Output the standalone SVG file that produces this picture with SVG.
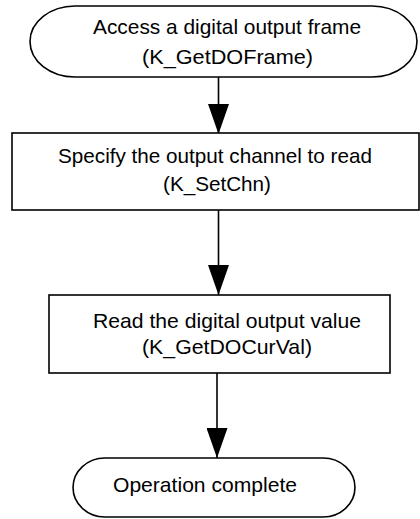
<svg xmlns="http://www.w3.org/2000/svg" width="420" height="519" viewBox="0 0 420 519">
<style>
.shape{fill:#fff;stroke:#000;stroke-width:1.6}
.conn{stroke:#000;stroke-width:1.6;fill:none}
text{font-family:"Liberation Sans",Arial,sans-serif;font-size:21px;fill:#000;text-anchor:middle}
</style>
<defs>
<marker id="arr" viewBox="0 0 30 21" refX="30" refY="10.5" markerWidth="30" markerHeight="21" markerUnits="userSpaceOnUse" orient="auto">
<path d="M0,0 L30,10.5 L0,21 Z" fill="#000"/>
</marker>
</defs>
<rect width="420" height="519" fill="#fff"/>
<g id="connectors">
<line class="conn" x1="218.5" y1="77" x2="218.5" y2="134" marker-end="url(#arr)"/>
<line class="conn" x1="218.5" y1="210" x2="218.5" y2="295" marker-end="url(#arr)"/>
<line class="conn" x1="217" y1="373" x2="217" y2="458" marker-end="url(#arr)"/>
</g>
<g id="start">
<path class="shape" d="M75,6 L372,6 A45,35.5 0 0 1 372,77 L75,77 A45,35.5 0 0 1 75,6 Z"/>
<text x="227" y="34" textLength="268" lengthAdjust="spacingAndGlyphs">Access a digital output frame</text>
<text x="227.5" y="64" textLength="171" lengthAdjust="spacingAndGlyphs">(K_GetDOFrame)</text>
</g>
<g id="setchn">
<rect class="shape" x="12" y="133" width="407" height="77"/>
<text x="215" y="163" textLength="314" lengthAdjust="spacingAndGlyphs">Specify the output channel to read</text>
<text x="217" y="191" textLength="108" lengthAdjust="spacingAndGlyphs">(K_SetChn)</text>
</g>
<g id="readval">
<rect class="shape" x="49" y="295" width="341" height="78"/>
<text x="227" y="328" textLength="268" lengthAdjust="spacingAndGlyphs">Read the digital output value</text>
<text x="227" y="354" textLength="170" lengthAdjust="spacingAndGlyphs">(K_GetDOCurVal)</text>
</g>
<g id="end">
<path class="shape" d="M105,458 L323,458 A32,29.5 0 0 1 323,517 L105,517 A32,29.5 0 0 1 105,458 Z"/>
<text x="205" y="492" textLength="184" lengthAdjust="spacingAndGlyphs">Operation complete</text>
</g>
</svg>
